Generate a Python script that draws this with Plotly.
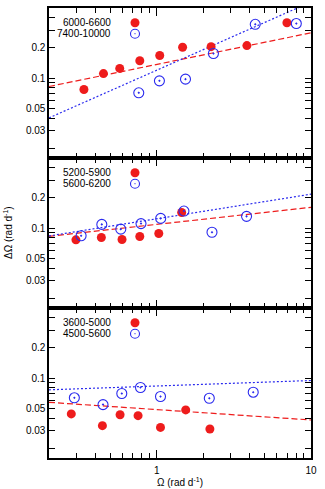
import numpy as np
import plotly.graph_objects as go

# ---- data ----
top_red_x = [0.337, 0.451, 0.575, 0.776, 1.045, 1.47, 2.25, 3.84, 6.98]
top_red_y = [0.077, 0.111, 0.125, 0.149, 0.168, 0.203, 0.206, 0.211, 0.356]
top_blue_x = [0.764, 1.04, 1.535, 2.33, 4.35, 8.03]
top_blue_y = [0.0714, 0.094, 0.0977, 0.176, 0.344, 0.35]

mid_red_x = [0.299, 0.437, 0.595, 0.776, 1.03, 1.45]
mid_red_y = [0.0765, 0.0807, 0.077, 0.0826, 0.0885, 0.143]
mid_blue_x = [0.323, 0.44, 0.584, 0.79, 1.06, 1.50, 2.28, 3.82]
mid_blue_y = [0.084, 0.109, 0.0977, 0.111, 0.125, 0.148, 0.091, 0.131]

bot_red_x = [0.279, 0.444, 0.578, 0.756, 1.057, 1.54, 2.21]
bot_red_y = [0.044, 0.0336, 0.0432, 0.0423, 0.0323, 0.0482, 0.0311]
bot_blue_x = [0.292, 0.448, 0.593, 0.784, 1.057, 2.19, 4.22]
bot_blue_y = [0.0637, 0.0545, 0.0703, 0.0807, 0.0656, 0.063, 0.0724]

# power-law fits: (amplitude at Omega=1, exponent)
top_red_fit = (0.137, 0.315)
top_blue_fit = (0.120, 0.68)
mid_red_fit = (0.109, 0.170)
mid_blue_fit = (0.124, 0.245)
bot_red_fit = (0.0486, -0.1036)
bot_blue_fit = (0.0835, 0.0547)

red_labels = ["6000-6600", "5200-5900", "3600-5000"]
blue_labels = ["7400-10000", "5600-6200", "4500-5600"]

x_major = [1, 10]
x_minor = [0.2, 0.3, 0.4, 0.5, 0.6, 0.7, 0.8, 0.9, 2, 3, 4, 5, 6, 7, 8, 9]
y_labeled = [0.03, 0.05, 0.1, 0.2]
y_minor = [0.02, 0.04, 0.06, 0.07, 0.08, 0.09, 0.3, 0.4]
x_range = (0.2, 10)
y_range = (0.016, 0.5)

RED = "#ee1c1c"
BLUE = "#2a2aee"
FONT = "Liberation Sans, Arial, sans-serif"

panels = [
    (top_red_x, top_red_y, top_blue_x, top_blue_y, top_red_fit, top_blue_fit),
    (mid_red_x, mid_red_y, mid_blue_x, mid_blue_y, mid_red_fit, mid_blue_fit),
    (bot_red_x, bot_red_y, bot_blue_x, bot_blue_y, bot_red_fit, bot_blue_fit),
]

ML, MR, MT, MB = 49, 14, 8, 31
W, H = 325, 489
pw, ph = W - ML - MR, H - MT - MB

fig = go.Figure()
xfit = np.array(x_range)
layout = {}
for i, (rx, ry, bx, by, rfit, bfit) in enumerate(panels):
    n = i + 1
    xa = "x" if n == 1 else f"x{n}"
    ya = "y" if n == 1 else f"y{n}"
    fig.add_trace(go.Scatter(x=xfit, y=rfit[0] * xfit ** rfit[1], mode="lines",
                             line=dict(color=RED, width=1.2, dash="6px,3px"),
                             showlegend=False, hoverinfo="skip", xaxis=xa, yaxis=ya))
    fig.add_trace(go.Scatter(x=xfit, y=bfit[0] * xfit ** bfit[1], mode="lines",
                             line=dict(color=BLUE, width=1.2, dash="2px,2px"),
                             showlegend=False, hoverinfo="skip", xaxis=xa, yaxis=ya))
    fig.add_trace(go.Scatter(x=rx, y=ry, mode="markers",
                             marker=dict(symbol="circle", size=9, color=RED,
                                         line=dict(width=0)),
                             showlegend=False, xaxis=xa, yaxis=ya))
    fig.add_trace(go.Scatter(x=bx, y=by, mode="markers",
                             marker=dict(symbol="circle-open-dot", size=10, color=BLUE,
                                         line=dict(width=1.1)),
                             showlegend=False, xaxis=xa, yaxis=ya))
    d0 = (2 - i) / 3
    d1 = (3 - i) / 3
    xkey = "xaxis" if n == 1 else f"xaxis{n}"
    ykey = "yaxis" if n == 1 else f"yaxis{n}"
    layout[xkey] = dict(
        type="log", range=[np.log10(x_range[0]), np.log10(x_range[1])],
        domain=[0, 1], anchor=ya, automargin=False,
        showline=True, linecolor="black", linewidth=1.6, mirror="ticks",
        ticks="inside", ticklen=8, tickwidth=1, tickcolor="black",
        tickvals=x_major, ticktext=[str(v) for v in x_major],
        minor=dict(tickvals=x_minor, ticks="inside", ticklen=5,
                   tickwidth=1, tickcolor="black"),
        showgrid=False, zeroline=False, showticklabels=(n == 3),
        tickfont=dict(family=FONT, size=10, color="black"))
    if n == 3:
        layout[xkey]["ticklabelstandoff"] = 2
        layout[xkey]["title"] = dict(text="Ω (rad d<sup>-1</sup>)", standoff=3,
                                     font=dict(family=FONT, size=10, color="black"))
    layout[ykey] = dict(
        type="log", range=[np.log10(y_range[0]), np.log10(y_range[1])],
        domain=[d0, d1], anchor=xa, automargin=False,
        showline=True, linecolor="black", linewidth=1.6, mirror="ticks",
        ticks="inside", ticklen=6, tickwidth=1, tickcolor="black",
        tickvals=y_labeled, ticktext=[f"{v:g}" for v in y_labeled],
        minor=dict(tickvals=y_minor, ticks="inside", ticklen=6,
                   tickwidth=1, tickcolor="black"),
        showgrid=False, zeroline=False,
        tickfont=dict(family=FONT, size=10, color="black"))

# legends (text on left, symbol on right), placed in paper coordinates
panel_h = ph / 3
annotations = []
shapes = []
for k in range(3):
    top_px = k * panel_h
    for j, (lab, col) in enumerate([(red_labels[k], RED), (blue_labels[k], BLUE)]):
        ypx = top_px + 14.7 + 11 * j
        yp = 1 - ypx / ph
        annotations.append(dict(x=(113 - ML) / pw, y=yp, xref="paper", yref="paper",
                                text=lab, showarrow=False, xanchor="right",
                                yanchor="middle",
                                font=dict(family=FONT, size=10, color="black")))
        xc = (135 - ML) / pw
        if j == 0:
            shapes.append(dict(type="circle", xref="paper", yref="paper",
                               xsizemode="pixel", ysizemode="pixel",
                               xanchor=xc, yanchor=yp, x0=-4.5, x1=4.5, y0=-4.5, y1=4.5,
                               fillcolor=col, line=dict(width=0)))
        else:
            shapes.append(dict(type="circle", xref="paper", yref="paper",
                               xsizemode="pixel", ysizemode="pixel",
                               xanchor=xc, yanchor=yp, x0=-4.5, x1=4.5, y0=-4.5, y1=4.5,
                               fillcolor="rgba(0,0,0,0)", line=dict(color=col, width=1.1)))
            shapes.append(dict(type="circle", xref="paper", yref="paper",
                               xsizemode="pixel", ysizemode="pixel",
                               xanchor=xc, yanchor=yp, x0=-0.6, x1=0.6, y0=-0.6, y1=0.6,
                               fillcolor=col, line=dict(width=0)))

annotations.append(dict(x=(8 - ML) / pw, y=0.5, xref="paper", yref="paper",
                        text="ΔΩ (rad d<sup>-1</sup>)", showarrow=False, textangle=-90,
                        xanchor="center", yanchor="middle",
                        font=dict(family=FONT, size=10, color="black")))

fig.update_layout(width=W, height=H, margin=dict(l=ML, r=MR, t=MT, b=MB, autoexpand=False),
                  paper_bgcolor="white", plot_bgcolor="white",
                  showlegend=False, annotations=annotations, shapes=shapes,
                  font=dict(family=FONT, size=10, color="black"), **layout)

fig.write_html("out.html", config={"displayModeBar": False, "staticPlot": True},
               post_script="document.body.style.margin='0';document.body.style.padding='0';"
                           "document.body.style.overflow='hidden';")
